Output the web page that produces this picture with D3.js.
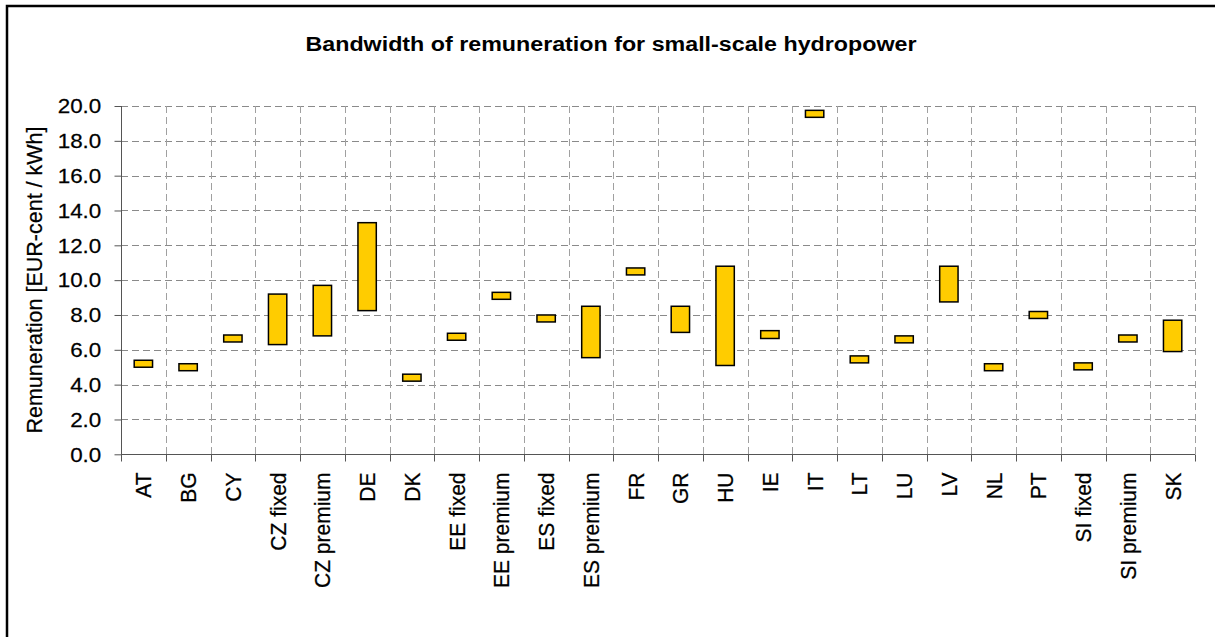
<!DOCTYPE html>
<html>
<head>
<meta charset="utf-8">
<script src="https://cdn.jsdelivr.net/npm/d3@7"></script>
<style>
  html, body { margin: 0; padding: 0; background: #fff; }
  svg { display: block; }
  text { font-family: "Liberation Sans", Arial, sans-serif; fill: #000; }
</style>
</head>
<body>
<svg id="chart" width="1215" height="637"></svg>
<script>
const categories = ["AT","BG","CY","CZ fixed","CZ premium","DE","DK","EE fixed","EE premium","ES fixed","ES premium","FR","GR","HU","IE","IT","LT","LU","LV","NL","PT","SI fixed","SI premium","SK"];
const lowValues  = [5.0, 4.8, 6.45, 6.3, 6.8, 8.25, 4.2, 6.55, 8.9, 7.6, 5.55, 10.3, 7.0, 5.1, 6.65, 19.35, 5.25, 6.4, 8.75, 4.8, 7.8, 4.85, 6.45, 5.9];
const highValues = [5.4, 5.2, 6.85, 9.2, 9.7, 13.3, 4.6, 6.95, 9.3, 8.0, 8.5, 10.7, 8.5, 10.8, 7.1, 19.75, 5.65, 6.8, 10.8, 5.2, 8.2, 5.25, 6.85, 7.7];
const yTicks = [0, 2, 4, 6, 8, 10, 12, 14, 16, 18, 20];
const titleText = "Bandwidth of remuneration for small-scale hydropower";
const yLabelText = "Remuneration [EUR-cent / kWh]";

(function () {
const svg = d3.select("#chart");
const pLeft = 121, pRight = 1195, pTop = 106, pBottom = 454.3;
const sx = 1.066; // horizontal stretch of the original rendering

// outer frame (top and left visible)
svg.append("rect").attr("x", 7).attr("y", 6).attr("width", 1215).attr("height", 640)
  .attr("fill", "none").attr("stroke", "#000").attr("stroke-width", 2.5);

const x = d3.scaleBand().domain(categories).range([pLeft, pRight]).padding(0);
const y = d3.scaleLinear().domain([0, 20]).range([pBottom, pTop]);
const bw = x.bandwidth();
const barW = bw * 0.41;

// horizontal grid
svg.append("g").selectAll("line").data(yTicks.filter(d => d > 0)).join("line")
  .attr("x1", pLeft).attr("x2", pRight)
  .attr("y1", d => Math.round(y(d)) + 0.5).attr("y2", d => Math.round(y(d)) + 0.5)
  .attr("stroke", "#8a8a8a").attr("stroke-width", 1).attr("stroke-dasharray", "7,4");

// vertical grid at category boundaries
const bounds = categories.map(c => x(c)).concat([pRight]);
svg.append("g").selectAll("line").data(bounds.slice(1)).join("line")
  .attr("x1", d => Math.round(d) + 0.5).attr("x2", d => Math.round(d) + 0.5)
  .attr("y1", pTop).attr("y2", pBottom)
  .attr("stroke", "#a0a0a0").attr("stroke-width", 1).attr("stroke-dasharray", "7,4");

// y axis
const yAxis = d3.axisLeft(y).tickValues(yTicks).tickFormat(d3.format(".1f")).tickSize(7).tickPadding(12);
const gy = svg.append("g").attr("transform", `translate(${pLeft + 0.5},0)`).call(yAxis);
gy.select(".domain").attr("stroke", "#555").attr("d", `M0,${pTop}V${pBottom}`);
gy.selectAll(".tick line").attr("stroke", "#555");
gy.selectAll(".tick text").attr("font-size", 21).attr("font-family", "Liberation Sans, Arial, sans-serif")
  .attr("fill", "#000").attr("stroke", "#000").attr("stroke-width", 0.25)
  .attr("transform", `scale(${sx},1)`);

// x axis
const gx = svg.append("g").attr("transform", `translate(0,${Math.round(pBottom) + 0.5})`);
gx.append("line").attr("x1", pLeft).attr("x2", pRight).attr("y1", 0).attr("y2", 0).attr("stroke", "#555");
gx.selectAll("line.tk").data(bounds).join("line").attr("class", "tk")
  .attr("x1", d => Math.round(d) + 0.5).attr("x2", d => Math.round(d) + 0.5)
  .attr("y1", 0).attr("y2", 7).attr("stroke", "#555");
gx.selectAll("text").data(categories).join("text")
  .attr("transform", d => `translate(${x(d) + bw / 2 + 8},${472 - Math.round(pBottom)}) scale(${sx},1) rotate(-90)`)
  .attr("text-anchor", "end")
  .attr("font-size", 21)
  .attr("stroke", "#000").attr("stroke-width", 0.25)
  .text(d => d);

// bars
svg.append("g").selectAll("rect").data(categories).join("rect")
  .attr("x", d => x(d) + (bw - barW) / 2)
  .attr("width", barW)
  .attr("y", (d, i) => y(highValues[i]))
  .attr("height", (d, i) => y(lowValues[i]) - y(highValues[i]))
  .attr("fill", "#FFCC00").attr("stroke", "#000").attr("stroke-width", 1.5);

// title
svg.append("text").attr("x", 611).attr("y", 51).attr("text-anchor", "middle")
  .attr("font-size", 19.5).attr("font-weight", "bold")
  .attr("textLength", 611).attr("lengthAdjust", "spacingAndGlyphs")
  .text(titleText);

// y label
svg.append("text").attr("transform", `translate(42,280) scale(${sx},1) rotate(-90)`)
  .attr("text-anchor", "middle").attr("font-size", 21.5)
  .attr("stroke", "#000").attr("stroke-width", 0.25)
  .text(yLabelText);
})();
</script>
</body>
</html>
